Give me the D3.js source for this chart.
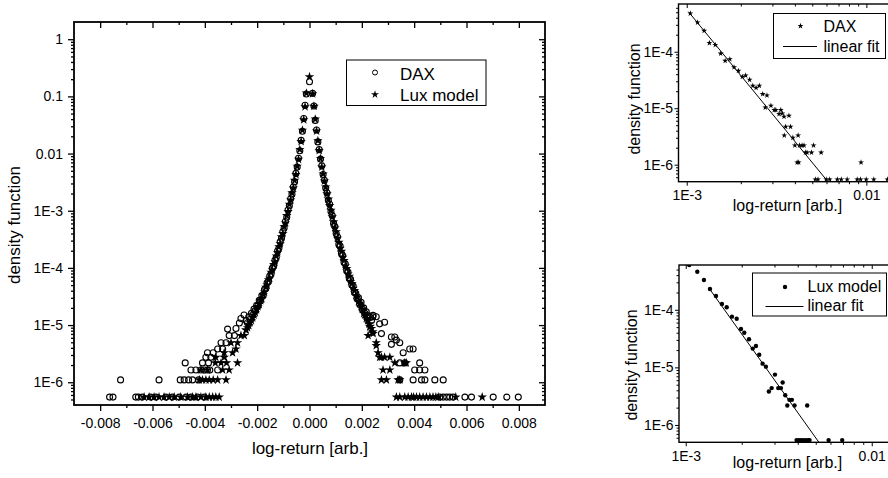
<!DOCTYPE html>
<html><head><meta charset="utf-8">
<script src="https://cdn.jsdelivr.net/npm/d3@7"></script>
<style>
body{margin:0;background:#fff}
svg{display:block}
</style>
</head><body>
<svg id="c" width="888" height="478"></svg>
<script>
// ---------------- DATA ----------------
// main panel: central part of both histograms (shared return grid)
const coreReturn = [-0.00242,-0.00237,-0.00232,-0.00227,-0.00222,-0.00217,-0.00212,-0.00207,-0.00202,-0.00197,-0.00192,-0.00187,-0.00182,-0.00177,-0.00172,-0.00167,-0.00162,-0.00157,-0.00152,-0.00147,-0.00142,-0.00137,-0.00132,-0.00127,-0.00122,-0.00117,-0.00112,-0.00107,-0.00102,-0.00097,-0.00092,-0.00087,-0.00082,-0.00077,-0.00072,-0.00067,-0.00062,-0.00057,-0.00052,-0.00047,-0.00042,-0.00037,-0.00032,-0.00027,-0.00022,-0.00017,-0.00012,
 0,
 0.00012,0.00017,0.00022,0.00027,0.00032,0.00037,0.00042,0.00047,0.00052,0.00057,0.00062,0.00067,0.00072,0.00077,0.00082,0.00087,0.00092,0.00097,0.00102,0.00107,0.00112,0.00117,0.00122,0.00127,0.00132,0.00137,0.00142,0.00147,0.00152,0.00157,0.00162,0.00167,0.00172,0.00177,0.00182,0.00187,0.00192,0.00197,0.00202,0.00207,0.00212,0.00217,0.00222,0.00227,0.00232,0.00237,0.00242];

const daxCoreDensity = [1.2e-5,1.1e-5,1.4e-5,1.25e-5,1.6e-5,1.5e-5,1.9e-5,1.8e-5,2.2e-5,2.2e-5,2.7e-5,2.7e-5,3.3e-5,3.3e-5,4.2e-5,4.4e-5,5.5e-5,5.8e-5,7.2e-5,7.8e-5,9.9e-5,1.08e-4,1.36e-4,1.52e-4,1.97e-4,2.2e-4,2.85e-4,3.3e-4,4.3e-4,5.0e-4,6.5e-4,7.7e-4,1.03e-3,1.22e-3,1.62e-3,1.95e-3,2.6e-3,3.2e-3,4.5e-3,5.8e-3,8.3e-3,0.0112,0.0170,0.0245,0.041,0.070,0.110,
 0.18,
 0.113,0.068,0.038,0.0258,0.0160,0.0117,0.0080,0.0061,0.0043,0.0034,0.0025,0.00205,0.00152,0.00130,0.00097,8.2e-4,6.0e-4,5.3e-4,4.0e-4,3.5e-4,2.6e-4,2.4e-4,1.8e-4,1.65e-4,1.25e-4,1.17e-4,9.0e-5,8.5e-5,6.5e-5,6.3e-5,5.0e-5,4.8e-5,3.7e-5,3.6e-5,2.9e-5,3.0e-5,2.3e-5,2.5e-5,1.9e-5,2.0e-5,1.6e-5,1.7e-5,1.3e-5,1.45e-5,1.35e-5,1.2e-5,1.4e-5];

const luxCoreDensity = [8.2e-6,9.0e-6,9.8e-6,1.1e-5,1.2e-5,1.35e-5,1.5e-5,1.65e-5,1.85e-5,2.1e-5,2.3e-5,2.7e-5,2.9e-5,3.4e-5,3.8e-5,4.6e-5,5.0e-5,6.2e-5,6.6e-5,8.4e-5,9.2e-5,1.15e-4,1.27e-4,1.62e-4,1.85e-4,2.35e-4,2.65e-4,3.5e-4,4.0e-4,5.3e-4,6.1e-4,8.2e-4,9.7e-4,1.30e-3,1.54e-3,2.05e-3,2.5e-3,3.4e-3,4.3e-3,6.0e-3,7.9e-3,0.0118,0.0162,0.0256,0.039,0.066,0.114,
 0.22,
 0.111,0.067,0.040,0.0248,0.0168,0.0113,0.0082,0.0058,0.0044,0.0033,0.0026,0.00197,0.00160,0.00123,0.00102,7.8e-4,6.4e-4,5.0e-4,4.3e-4,3.3e-4,2.8e-4,2.2e-4,1.95e-4,1.53e-4,1.35e-4,1.08e-4,9.7e-5,7.8e-5,7.1e-5,5.8e-5,5.3e-5,4.4e-5,4.0e-5,3.3e-5,3.1e-5,2.6e-5,2.4e-5,2.1e-5,1.9e-5,1.6e-5,1.5e-5,1.3e-5,1.2e-5,1.05e-5,9.5e-6,8.7e-6,7.6e-6];

// main panel: sparse tails [return, density]
const daxTail = [
 [-0.00764,5.5e-7],[-0.00751,5.5e-7],[-0.00664,5.5e-7],[-0.00654,5.5e-7],[-0.00639,5.5e-7],[-0.00607,5.5e-7],[-0.00587,5.5e-7],[-0.00549,5.5e-7],[-0.00524,5.5e-7],[-0.00498,5.5e-7],[-0.00472,5.5e-7],[-0.00453,5.5e-7],[-0.00428,5.5e-7],[-0.00402,5.5e-7],
 [-0.00722,1.1e-6],[-0.00575,1.1e-6],[-0.00494,1.1e-6],[-0.00479,1.1e-6],[-0.00462,1.1e-6],[-0.00447,1.1e-6],[-0.00424,1.1e-6],
 [-0.00453,1.64e-6],[-0.00434,1.64e-6],[-0.00415,1.64e-6],[-0.00402,1.64e-6],[-0.00390,1.64e-6],[-0.00381,1.64e-6],[-0.00351,1.64e-6],
 [-0.00475,2.18e-6],[-0.00409,2.18e-6],[-0.00386,2.18e-6],
 [-0.00396,2.73e-6],[-0.00377,2.73e-6],[-0.00390,3.28e-6],[-0.00368,3.28e-6],
 [-0.00351,3.82e-6],[-0.00332,3.82e-6],[-0.00338,4.91e-6],[-0.00319,4.91e-6],
 [-0.00307,6.55e-6],[-0.00287,6.55e-6],[-0.00313,8.5e-6],[-0.00281,8.7e-6],[-0.00268,1.09e-5],[-0.00262,1.3e-5],[-0.00250,1.5e-5],
 [0.00243,1.48e-5],[0.00255,1.4e-5],[0.00268,1.05e-5],[0.00287,1.12e-5],[0.00275,7.1e-6],[0.00313,6.2e-6],[0.00326,6.2e-6],[0.00332,5.46e-6],[0.00345,4.91e-6],[0.00313,4.6e-6],
 [0.00383,3.82e-6],[0.00396,3.82e-6],[0.00358,3.28e-6],[0.00345,2.18e-6],[0.00364,2.18e-6],[0.00421,2.18e-6],
 [0.00402,1.64e-6],[0.00421,1.64e-6],[0.00441,1.64e-6],
 [0.00345,1.1e-6],[0.00396,1.1e-6],[0.00428,1.1e-6],[0.00441,1.1e-6],[0.00479,1.1e-6],[0.00511,1.1e-6],
 [0.00498,5.5e-7],[0.00511,5.5e-7],[0.00524,5.5e-7],[0.00536,5.5e-7],[0.00549,5.5e-7],[0.00594,5.5e-7],[0.00619,5.5e-7],[0.00702,5.5e-7],[0.00754,5.5e-7],[0.00798,5.5e-7]
];
const luxTail = [
 [-0.00632,5.5e-7],[-0.00613,5.5e-7],[-0.00594,5.5e-7],[-0.00575,5.5e-7],[-0.00556,5.5e-7],[-0.00536,5.5e-7],[-0.00517,5.5e-7],[-0.00492,5.5e-7],[-0.00466,5.5e-7],[-0.00447,5.5e-7],[-0.00434,5.5e-7],[-0.00415,5.5e-7],[-0.00396,5.5e-7],[-0.00383,5.5e-7],[-0.00370,5.5e-7],[-0.00358,5.5e-7],[-0.00345,5.5e-7],
 [-0.00421,1.1e-6],[-0.00409,1.1e-6],[-0.00396,1.1e-6],[-0.00383,1.1e-6],[-0.00368,1.1e-6],[-0.00351,1.1e-6],[-0.00319,1.1e-6],
 [-0.00415,1.64e-6],[-0.00390,1.64e-6],[-0.00332,1.64e-6],[-0.00307,1.64e-6],
 [-0.00360,2.18e-6],[-0.00338,2.18e-6],[-0.00317,2.18e-6],[-0.00275,2.18e-6],
 [-0.00358,2.73e-6],[-0.00326,2.73e-6],[-0.00326,3.28e-6],[-0.00294,3.28e-6],[-0.00281,3.82e-6],
 [-0.00300,4.91e-6],[-0.00275,4.91e-6],[-0.00262,6.55e-6],[-0.00249,6.55e-6],[-0.00243,8.2e-6],
 [0.00224,6.55e-6],[0.00230,9.3e-6],[0.00243,7.1e-6],[0.00255,4.91e-6],[0.00255,4.37e-6],[0.00262,3.28e-6],[0.00268,2.73e-6],
 [0.00275,2.73e-6],[0.00287,2.73e-6],[0.00307,2.73e-6],
 [0.00326,2.18e-6],[0.00364,2.18e-6],[0.00370,2.18e-6],
 [0.00281,1.64e-6],[0.00307,1.64e-6],
 [0.00275,1.1e-6],[0.00294,1.1e-6],[0.00338,1.1e-6],[0.00345,1.1e-6],
 [0.00332,5.5e-7],[0.00345,5.5e-7],[0.00364,5.5e-7],[0.00377,5.5e-7],[0.00390,5.5e-7],[0.00398,5.5e-7],[0.00409,5.5e-7],[0.00421,5.5e-7],[0.00434,5.5e-7],[0.00447,5.5e-7],[0.00460,5.5e-7],[0.00472,5.5e-7],[0.00483,5.5e-7],[0.00492,5.5e-7],[0.00559,5.5e-7],[0.00660,5.5e-7]
];

// insets: tail density vs log-return, log-log [return, density]
const daxInset = [
 [1.047e-3,4.76e-4],[1.149e-3,3.30e-4],[1.250e-3,2.35e-4],[1.337e-3,1.43e-4],[1.442e-3,1.32e-4],[1.545e-3,9.3e-5],[1.637e-3,6.9e-5],[1.738e-3,7.4e-5],[1.834e-3,5.3e-5],[1.939e-3,4.6e-5],
 [2.040e-3,3.6e-5],[2.128e-3,3.8e-5],[2.239e-3,3.2e-5],[2.333e-3,2.5e-5],[2.433e-3,2.3e-5],[2.536e-3,2.5e-5],[2.647e-3,1.78e-5],[2.737e-3,1.03e-5],[2.797e-3,1.69e-5],[2.942e-3,1.11e-5],
 [3.069e-3,9.3e-6],[3.133e-3,9.3e-6],[3.267e-3,7.9e-6],[3.339e-3,9.3e-6],[3.405e-3,8.1e-6],[3.480e-3,7.1e-6],[3.707e-3,7.4e-6],[3.556e-3,4.7e-6],[3.784e-3,4.7e-6],[3.492e-3,3.3e-6],
 [3.899e-3,3.0e-6],[3.999e-3,2.2e-6],[4.169e-3,3.3e-6],[4.246e-3,2.2e-6],[4.385e-3,2.2e-6],[4.497e-3,2.2e-6],[4.579e-3,1.64e-6],[4.673e-3,1.64e-6],[4.117e-3,1.1e-6],[4.200e-3,1.1e-6],
 [4.950e-3,1.64e-6],[5.082e-3,2.2e-6],[5.600e-3,1.64e-6],[9.34e-3,1.1e-6],
 [5.20e-3,5.5e-7],[5.38e-3,5.5e-7],[5.98e-3,5.5e-7],[6.25e-3,5.5e-7],[6.89e-3,5.5e-7],[7.25e-3,5.5e-7],[7.82e-3,5.5e-7],[8.89e-3,5.5e-7],[9.29e-3,5.5e-7],[9.98e-3,5.5e-7],[1.10e-2,5.5e-7],[1.31e-2,5.5e-7]
];
const daxFitReturn = [1.023e-3, 6.11e-3];
const daxFitDensity = [5.1e-4, 5.0e-7];

const luxInset = [
 [1.044e-3,6.0e-4],[1.154e-3,4.59e-4],[1.253e-3,3.30e-4],[1.350e-3,2.30e-4],[1.454e-3,1.74e-4],[1.565e-3,1.26e-4],[1.660e-3,1.11e-4],[1.772e-3,7.6e-5],[1.879e-3,7.0e-5],[1.982e-3,4.65e-5],
 [2.064e-3,4.0e-5],[2.188e-3,3.08e-5],[2.291e-3,2.12e-5],[2.385e-3,2.35e-5],[2.484e-3,1.66e-5],[2.589e-3,1.16e-5],[2.698e-3,1.03e-5],[2.799e-3,3.82e-6],[2.897e-3,4.37e-6],[3.018e-3,7.5e-6],
 [3.143e-3,4.37e-6],[3.250e-3,4.37e-6],[3.319e-3,5.46e-6],[3.428e-3,3.28e-6],[3.610e-3,2.73e-6],[3.720e-3,2.73e-6],[3.515e-3,2.18e-6],[3.846e-3,2.18e-6],[4.498e-3,2.18e-6],
 [3.944e-3,5.46e-7],[4.062e-3,5.46e-7],[4.162e-3,5.46e-7],[4.284e-3,5.46e-7],[4.427e-3,5.46e-7],[4.560e-3,5.46e-7],[4.630e-3,5.46e-7],[5.862e-3,5.46e-7],[6.937e-3,5.46e-7]
];
const luxFitReturn = [1.35e-3, 5.2e-3];
const luxFitDensity = [2.25e-4, 5.0e-7];

// ticks and labels
const mainXTicks = [-0.008,-0.006,-0.004,-0.002,0,0.002,0.004,0.006,0.008];
const mainXTickLabels = ["-0.008","-0.006","-0.004","-0.002","0.000","0.002","0.004","0.006","0.008"];
const mainXMinor = [-0.007,-0.005,-0.003,-0.001,0.001,0.003,0.005,0.007];
const mainYTicks = [1,0.1,0.01,1e-3,1e-4,1e-5,1e-6];
const mainYTickLabels = ["1","0.1","0.01","1E-3","1E-4","1E-5","1E-6"];
const insetXTicks = [1e-3,1e-2];
const insetXTickLabels = ["1E-3","0.01"];
const insetYTicks = [1e-4,1e-5,1e-6];
const insetYTickLabels = ["1E-4","1E-5","1E-6"];
const seriesNames = ["DAX","Lux model"];
const fitName = "linear fit";
const xTitle = "log-return [arb.]";
const yTitle = "density function";

// ---------------- DRAWING ----------------
const FONT = '"Liberation Sans", Arial, Helvetica, sans-serif';
const svg = d3.select("#c");
svg.append("rect").attr("width",888).attr("height",478).attr("fill","#fff");

function minorLog(domain){
  const a = domain[0], b = domain[1], out = [];
  for (let e = Math.floor(Math.log10(a)); e <= Math.ceil(Math.log10(b)); e++){
    for (let k = 2; k <= 9; k++){
      const v = k * Math.pow(10, e);
      if (v > a * 1.001 && v < b * 0.999) out.push(v);
    }
  }
  return out;
}
function styleAxis(g, fs, sw){
  g.select(".domain").remove();
  g.selectAll("line").attr("stroke","#000").attr("stroke-width",sw);
  g.selectAll("text").attr("font-family",FONT).attr("font-size",fs).attr("fill","#000");
}
function axisPair(gen, scale, majors, labels, minors, size, minorSize, pad, at, fs, sw){
  const g1 = svg.append("g").attr("transform", at);
  g1.call(gen(scale).tickValues(majors).tickSize(size).tickPadding(pad)
    .tickFormat(labels ? (d,i)=>labels[i] : ()=>""));
  styleAxis(g1, fs, sw);
  const g2 = svg.append("g").attr("transform", at);
  g2.call(gen(scale).tickValues(minors).tickSize(minorSize).tickFormat(()=>""));
  styleAxis(g2, fs, sw);
}
const starPath = s => d3.symbol().type(d3.symbolStar).size(s)();

// ===== main panel =====
const M = {l:74, r:545, t:22, b:405};
const mx = d3.scaleLinear().domain([-0.009,0.009]).range([M.l, M.r]);
const my = d3.scaleLog().domain([4e-7,2]).range([M.b, M.t]);
const myMinor = minorLog(my.domain());

axisPair(d3.axisBottom, mx, mainXTicks, mainXTickLabels, mainXMinor, 6, 3, 7, `translate(0,${M.b})`, 14, 1.3);
axisPair(d3.axisBottom, mx, mainXTicks, null, mainXMinor, 6, 3, 3, `translate(0,${M.t})`, 14, 1.3);
axisPair(d3.axisLeft, my, mainYTicks, mainYTickLabels, myMinor, 6, 3, 5, `translate(${M.l},0)`, 14, 1.3);
axisPair(d3.axisLeft, my, mainYTicks, null, myMinor, 6, 3, 3, `translate(${M.r},0)`, 14, 1.3);
svg.append("rect").attr("x",M.l).attr("y",M.t).attr("width",M.r-M.l).attr("height",M.b-M.t)
  .attr("fill","none").attr("stroke","#000").attr("stroke-width",1.8);

const daxMain = coreReturn.map((x,i)=>[x, daxCoreDensity[i]]).concat(daxTail);
const luxMain = coreReturn.map((x,i)=>[x, luxCoreDensity[i]]).concat(luxTail);

svg.append("g").selectAll("circle").data(daxMain).join("circle")
  .attr("cx", d=>mx(d[0])).attr("cy", d=>my(d[1])).attr("r",3)
  .attr("fill","none").attr("stroke","#000").attr("stroke-width",1.1);
svg.append("g").selectAll("path").data(luxMain).join("path")
  .attr("transform", d=>`translate(${mx(d[0])},${my(d[1])})`)
  .attr("d", starPath(28)).attr("fill","#000");

// legend main
const lg = svg.append("g");
lg.append("rect").attr("x",346.5).attr("y",60).attr("width",139.5).attr("height",45.5)
  .attr("fill","#fff").attr("stroke","#000").attr("stroke-width",1);
lg.append("circle").attr("cx",375).attr("cy",72.5).attr("r",2.5).attr("fill","none").attr("stroke","#000").attr("stroke-width",1);
lg.append("path").attr("transform","translate(375,94.5)").attr("d",starPath(20)).attr("fill","#000");
lg.append("text").attr("x",400).attr("y",80).text(seriesNames[0]);
lg.append("text").attr("x",400).attr("y",101).text(seriesNames[1]);
lg.selectAll("text").attr("font-family",FONT).attr("font-size",17);

svg.append("text").attr("x",310).attr("y",454).attr("text-anchor","middle")
  .attr("font-family",FONT).attr("font-size",17).text(xTitle);
svg.append("text").attr("transform","translate(19.5,225) rotate(-90)").attr("text-anchor","middle")
  .attr("font-family",FONT).attr("font-size",17).text(yTitle);

// ===== insets =====
function inset(cfg){
  const {x, y, data, fitX, fitY, marker, legend, id, titleY, titleX} = cfg;
  const [x0,x1] = x.range(), [yb,yt] = y.range();
  const xMinor = minorLog(x.domain());
  const yMinor = minorLog(y.domain());
  axisPair(d3.axisBottom, x, insetXTicks, insetXTickLabels, xMinor, 4, 2.5, 4.5, `translate(0,${yb})`, 14, 1);
  axisPair(d3.axisBottom, x, insetXTicks, null, xMinor, 4, 2.5, 3, `translate(0,${yt})`, 14, 1);
  axisPair(d3.axisLeft, y, insetYTicks, insetYTickLabels, yMinor, 4, 2.5, 1.5, `translate(${x0},0)`, 14, 1);
  svg.append("rect").attr("x",x0).attr("y",yt).attr("width",x1-x0).attr("height",yb-yt)
    .attr("fill","none").attr("stroke","#000").attr("stroke-width",1.4);
  svg.append("clipPath").attr("id",id).append("rect")
    .attr("x",x0).attr("y",yt).attr("width",x1-x0).attr("height",yb-yt);
  const g = svg.append("g").attr("clip-path",`url(#${id})`);
  const fit = fitX.map((v,i)=>[v, fitY[i]]);
  g.append("path").attr("d", d3.line().x(d=>x(d[0])).y(d=>y(d[1]))(fit))
    .attr("fill","none").attr("stroke","#000").attr("stroke-width",1);
  if (marker === "star"){
    g.selectAll("path.m").data(data).join("path").attr("class","m")
      .attr("transform", d=>`translate(${x(d[0])},${y(d[1])})`).attr("d",starPath(11)).attr("fill","#000");
  } else {
    g.selectAll("circle").data(data).join("circle")
      .attr("cx", d=>x(d[0])).attr("cy", d=>y(d[1])).attr("r",2.2).attr("fill","#000");
  }
  // legend
  const L = legend;
  const lg = svg.append("g");
  lg.append("rect").attr("x",L.x).attr("y",L.y).attr("width",L.w).attr("height",L.h)
    .attr("fill","#fff").attr("stroke","#000").attr("stroke-width",1);
  if (marker === "star") lg.append("path").attr("transform",`translate(${L.mx},${L.my})`).attr("d",starPath(11)).attr("fill","#000");
  else lg.append("circle").attr("cx",L.mx).attr("cy",L.my).attr("r",2.2).attr("fill","#000");
  lg.append("line").attr("x1",L.lx1).attr("x2",L.lx2).attr("y1",L.ly).attr("y2",L.ly).attr("stroke","#000").attr("stroke-width",1);
  lg.append("text").attr("x",L.tx).attr("y",L.t1).text(L.name);
  lg.append("text").attr("x",L.tx).attr("y",L.t2).text(fitName);
  lg.selectAll("text").attr("font-family",FONT).attr("font-size",16);
  svg.append("text").attr("x",787.5).attr("y",titleX).attr("text-anchor","middle")
    .attr("font-family",FONT).attr("font-size",16).text(xTitle);
  svg.append("text").attr("transform",`translate(${titleY[0]},${titleY[1]}) rotate(-90)`).attr("text-anchor","middle")
    .attr("font-family",FONT).attr("font-size",16).text(yTitle);
}

inset({
  id:"clipA",
  x: d3.scaleLog().domain([9e-4,0.015]).range([678.5,898]),
  y: d3.scaleLog().domain([5e-7,7e-4]).range([181.7,4]),
  data: daxInset, fitX: daxFitReturn, fitY: daxFitDensity, marker:"star",
  legend:{x:773.5,y:13.5,w:112,h:45,mx:800.5,my:26,lx1:783,lx2:817,ly:46.5,tx:823.5,t1:32,t2:52,name:seriesNames[0]},
  titleY:[640,99], titleX:211
});
inset({
  id:"clipB",
  x: d3.scaleLog().domain([9.2e-4,0.015]).range([679,904.5]),
  y: d3.scaleLog().domain([5e-7,6e-4]).range([442.3,265]),
  data: luxInset, fitX: luxFitReturn, fitY: luxFitDensity, marker:"dot",
  legend:{x:752.5,y:273,w:134,h:43,mx:785,my:287,lx1:765.5,lx2:803.5,ly:306.5,tx:807.5,t1:292,t2:311,name:seriesNames[1]},
  titleY:[637,365], titleX:468
});
</script>
</body></html>
